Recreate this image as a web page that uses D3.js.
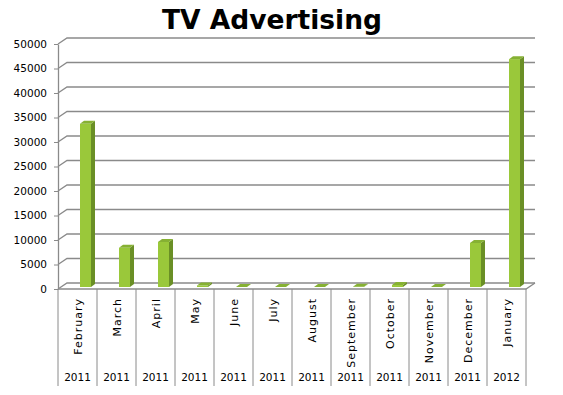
<!DOCTYPE html>
<html>
<head>
<meta charset="utf-8">
<script src="https://cdn.jsdelivr.net/npm/d3@7"></script>
<style>
    body { margin: 0; background: #fff; }
    svg { display: block; font-family: "DejaVu Sans", Verdana, sans-serif; }
</style>
</head>
<body>
<div id="chart"></div>
<script>
// chart data
const months = ["February", "March", "April", "May", "June", "July", "August",
    "September", "October", "November", "December", "January"];
const years = ["2011", "2011", "2011", "2011", "2011", "2011", "2011",
    "2011", "2011", "2011", "2011", "2012"];
const values = [33300, 8000, 9200, 300, 0, 0, 0, 50, 400, 0, 9000, 46500];
const yTicks = [0, 5000, 10000, 15000, 20000, 25000, 30000, 35000, 40000, 45000, 50000];

const width = 563, height = 395;
const margin = { top: 44, right: 37, bottom: 106, left: 58 };
const depth = { dx: 9, dy: -6 };   // 3d wall offset
const barDepth = { dx: 4, dy: -3 };

const svg = d3.select("#chart").append("svg")
    .attr("width", width)
    .attr("height", height);

const keys = months.map((m, i) => i);
const x = d3.scaleBand()
    .domain(keys)
    .range([margin.left, width - margin.right])
    .padding(0);

const y = d3.scaleLinear()
    .domain([0, 50000])
    .range([height - margin.bottom, margin.top]);

const gridColor = "#8a8a8a";

// Title
svg.append("text")
    .attr("x", 272)
    .attr("y", 29)
    .attr("text-anchor", "middle")
    .attr("font-size", "26.5px")
    .attr("font-weight", "bold")
    .text("TV Advertising");

// Back wall gridlines with the little diagonal from the front axis
const x0 = x.range()[0], x1 = x.range()[1];
const grid = svg.append("g").attr("class", "grid");
yTicks.forEach(t => {
    grid.append("path")
        .attr("d", `M${x0},${y(t)}L${x0 + depth.dx},${y(t) + depth.dy}L${x1 + depth.dx},${y(t) + depth.dy}`)
        .attr("fill", "none")
        .attr("stroke", gridColor)
        .attr("stroke-width", 1.3);
});

// Floor front edge and right diagonal
grid.append("path")
    .attr("d", `M${x0},${y(0)}L${x1},${y(0)}L${x1 + depth.dx},${y(0) + depth.dy}`)
    .attr("fill", "none")
    .attr("stroke", gridColor)
    .attr("stroke-width", 1.3);

// Y axis
const yAxis = svg.append("g")
    .attr("transform", `translate(${x0},0)`)
    .call(d3.axisLeft(y).tickValues(yTicks).tickSize(4).tickSizeOuter(0).tickPadding(7).tickFormat(d => d));
yAxis.select(".domain").attr("stroke", gridColor).attr("stroke-width", 1.3);
yAxis.selectAll(".tick line").attr("stroke", gridColor);
yAxis.selectAll(".tick text")
    .attr("font-size", "10.5px")
    .attr("font-family", "DejaVu Sans, Verdana, sans-serif")
    .attr("fill", "#000");

// Bars (3d boxes)
const bw = 11;
const base = y(0) - 2;
const bars = svg.append("g").attr("class", "bars")
    .selectAll("g")
    .data(values)
    .join("g");

bars.append("rect")
    .attr("x", (d, i) => x(i) + 22)
    .attr("y", d => y(d) - 2)
    .attr("width", bw)
    .attr("height", d => base - (y(d) - 2))
    .attr("fill", "#9ac83a");

// side face
bars.append("path")
    .attr("d", (d, i) => {
        const bx = x(i) + 22 + bw, top = y(d) - 2;
        return `M${bx},${top}L${bx + barDepth.dx},${top + barDepth.dy}L${bx + barDepth.dx},${base + barDepth.dy}L${bx},${base}Z`;
    })
    .attr("fill", "#6a8f26");

// top face
bars.append("path")
    .attr("d", (d, i) => {
        const bx = x(i) + 22, top = y(d) - 2;
        return `M${bx},${top}L${bx + barDepth.dx},${top + barDepth.dy}L${bx + bw + barDepth.dx},${top + barDepth.dy}L${bx + bw},${top}Z`;
    })
    .attr("fill", "#86b133");

// Category dividers below the floor
const labels = svg.append("g").attr("class", "x-labels");
d3.range(months.length + 1).forEach(i => {
    const lx = i < months.length ? x(i) : x1;
    labels.append("line")
        .attr("x1", lx).attr("x2", lx)
        .attr("y1", y(0)).attr("y2", 386)
        .attr("stroke", gridColor)
        .attr("stroke-width", 1);
});

// Month labels (rotated)
labels.selectAll(".month")
    .data(months)
    .join("text")
    .attr("class", "month")
    .attr("transform", (d, i) => `translate(${x(i) + x.bandwidth() / 2 + 4},${y(0) + 9}) rotate(-90)`)
    .attr("text-anchor", "end")
    .attr("font-size", "11px")
    .attr("letter-spacing", "1px")
    .text(d => d);

// Year labels
labels.selectAll(".year")
    .data(years)
    .join("text")
    .attr("class", "year")
    .attr("x", (d, i) => x(i) + x.bandwidth() / 2)
    .attr("y", 381)
    .attr("text-anchor", "middle")
    .attr("font-size", "10.5px")
    .text(d => d);
</script>
</body>
</html>
